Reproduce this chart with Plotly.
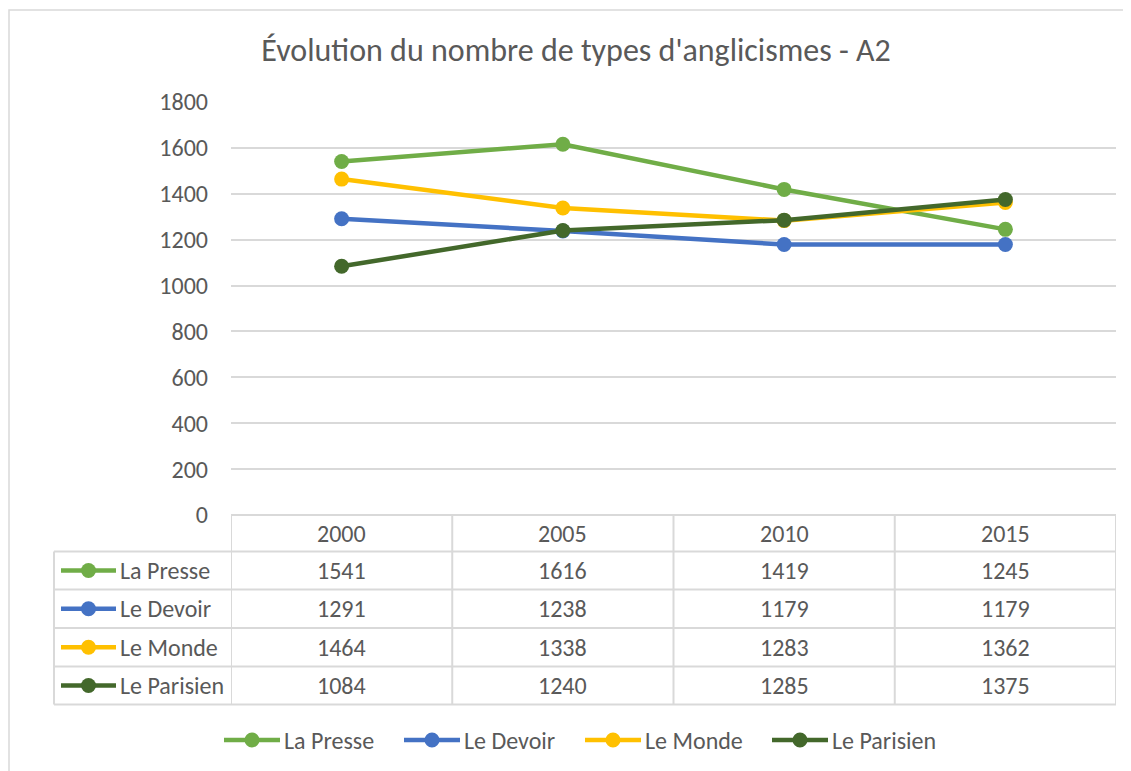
import plotly.graph_objects as go

years = ["2000", "2005", "2010", "2015"]
series_names = ["La Presse", "Le Devoir", "Le Monde", "Le Parisien"]
la_presse = [1541, 1616, 1419, 1245]
le_devoir = [1291, 1238, 1179, 1179]
le_monde = [1464, 1338, 1283, 1362]
le_parisien = [1084, 1240, 1285, 1375]
y_ticks = [0, 200, 400, 600, 800, 1000, 1200, 1400, 1600, 1800]

series_values = [la_presse, le_devoir, le_monde, le_parisien]
colors = ["#70AD47", "#4472C4", "#FFC000", "#43682B"]

FONT = "Carlito, Lato, sans-serif"
TXT = "#595959"
GRID = "#D9D9D9"
FS = 24

# the page body adds an 8px margin, so work in screen pixels minus 8
OFF = 8
W, H = 1131 - OFF, 771 - OFF
L, R, T, B = 231 - OFF, 1116 - OFF, 102 - OFF, 515 - OFF
PW, PH = R - L, B - T


def px_x(px):
    return (px - OFF - L) / PW


def px_y(py):
    return (B - (py - OFF)) / PH


def legend_key(shapes, x_start, x_end, yc, col):
    """Line with a dot in the middle, like Excel's legend keys."""
    shapes.append(dict(type="line", xref="paper", yref="paper",
                       x0=px_x(x_start), x1=px_x(x_end), y0=yc, y1=yc,
                       line=dict(color=col, width=4.5)))
    xm = px_x((x_start + x_end) / 2)
    rx, ry = 7.5 / PW, 7.5 / PH
    shapes.append(dict(type="circle", xref="paper", yref="paper",
                       x0=xm - rx, x1=xm + rx, y0=yc - ry, y1=yc + ry,
                       fillcolor=col, line=dict(color=col, width=0)))


fig = go.Figure()
for name, vals, col in zip(series_names, series_values, colors):
    fig.add_trace(go.Scatter(
        x=years, y=vals, name=name, mode="lines+markers",
        line=dict(color=col, width=4.5),
        marker=dict(color=col, size=15),
    ))

shapes = []
annotations = []
cell_font = dict(family=FONT, size=FS, color=TXT)

# outer chart border
shapes.append(dict(type="rect", xref="paper", yref="paper",
                   x0=px_x(9), x1=px_x(1140), y0=px_y(780), y1=px_y(10),
                   line=dict(color=GRID, width=1.5), layer="below"))

# data table grid
row_edges = [515, 551.5, 589.5, 628, 666.5, 704.5]
for i, yb in enumerate(row_edges):
    x_start = 231 if i == 0 else 54
    shapes.append(dict(type="line", xref="paper", yref="paper",
                       x0=px_x(x_start), x1=1, y0=px_y(yb), y1=px_y(yb),
                       line=dict(color=GRID, width=2)))
for k in range(len(years) + 1):
    shapes.append(dict(type="line", xref="x", yref="paper",
                       x0=k - 0.5, x1=k - 0.5, y0=px_y(515), y1=px_y(704.5),
                       line=dict(color=GRID, width=2)))
shapes.append(dict(type="line", xref="paper", yref="paper",
                   x0=px_x(54), x1=px_x(54), y0=px_y(551.5), y1=px_y(704.5),
                   line=dict(color=GRID, width=2)))

# header row
for k, yr in enumerate(years):
    annotations.append(dict(x=k, y=px_y((row_edges[0] + row_edges[1]) / 2),
                            xref="x", yref="paper", text=yr, showarrow=False,
                            xanchor="center", yanchor="middle", font=cell_font))

# value rows with legend keys
for r, (name, vals, col) in enumerate(zip(series_names, series_values, colors)):
    yc = px_y((row_edges[r + 1] + row_edges[r + 2]) / 2)
    for k, v in enumerate(vals):
        annotations.append(dict(x=k, y=yc, xref="x", yref="paper",
                                text=str(v), showarrow=False,
                                xanchor="center", yanchor="middle", font=cell_font))
    legend_key(shapes, 61, 116, yc, col)
    annotations.append(dict(x=px_x(118), y=yc, xref="paper", yref="paper",
                            text=name, showarrow=False, xanchor="left",
                            yanchor="middle", font=cell_font))

# bottom legend (drawn by hand to get Excel's long keys)
leg_starts = [224, 404, 585, 772]
leg_y = px_y(740)
for x0, name, col in zip(leg_starts, series_names, colors):
    legend_key(shapes, x0, x0 + 56, leg_y, col)
    annotations.append(dict(x=px_x(x0 + 58), y=leg_y, xref="paper", yref="paper",
                            text=name, showarrow=False, xanchor="left",
                            yanchor="middle", font=cell_font))

fig.update_layout(
    width=W, height=H,
    margin=dict(l=L, r=W - R, t=T, b=H - B),
    paper_bgcolor="white",
    plot_bgcolor="white",
    title=dict(text="Évolution du nombre de types d'anglicismes - A2",
               x=(576 - OFF) / W, xref="container", y=1 - (50 - OFF) / H,
               yref="container", xanchor="center", yanchor="middle",
               font=dict(family=FONT, size=32, color=TXT)),
    xaxis=dict(type="category", range=[-0.5, 3.5], showticklabels=False,
               showgrid=False, zeroline=False, showline=False, ticks=""),
    yaxis=dict(range=[0, 1800], tickvals=y_ticks, showgrid=True,
               gridcolor=GRID, gridwidth=2, zeroline=False, showline=False,
               ticklabelstandoff=22,
               tickfont=dict(family=FONT, size=FS, color=TXT)),
    showlegend=False,
    shapes=shapes,
    annotations=annotations,
)

fig.write_html("out.html")
